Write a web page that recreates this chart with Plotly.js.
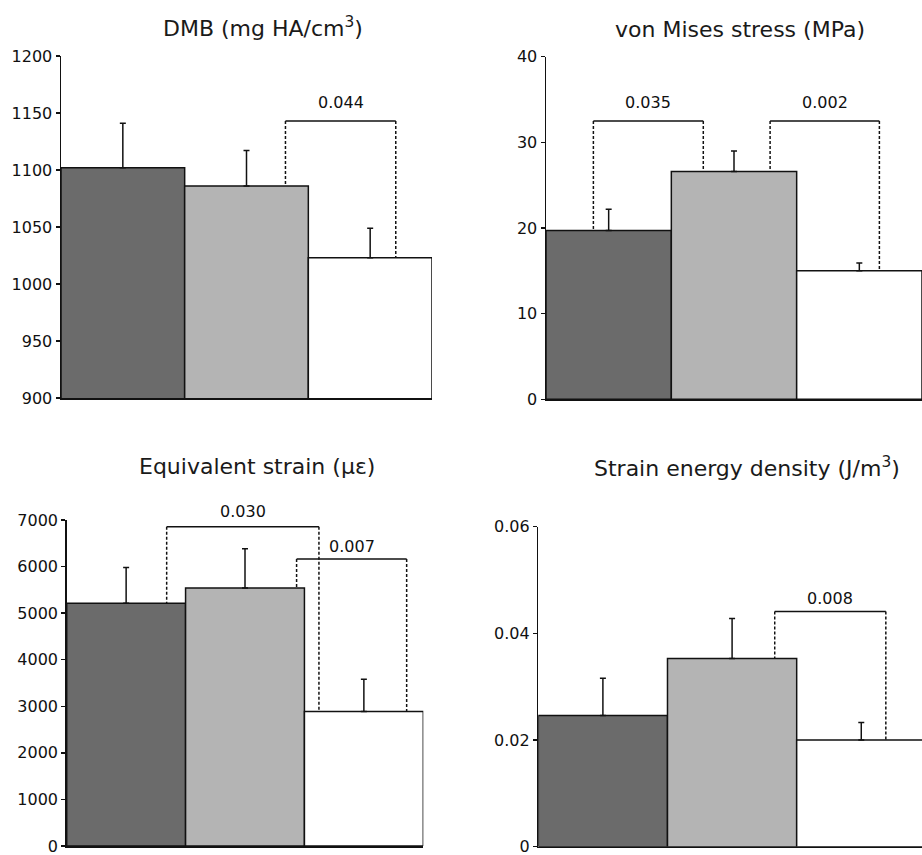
<!DOCTYPE html>
<html>
<head>
<meta charset="utf-8">
<script src="https://cdn.plot.ly/plotly-3.0.1.min.js"></script>
<style>html,body{margin:0;padding:0;background:#fff;}#chart{width:922px;height:855px;}</style>
</head>
<body>
<div id="chart"></div>
<script>
// ---- data ----
const groups = [0, 1, 2];
const barColors = ['#6b6b6b', '#b4b4b4', '#ffffff'];

const dmbMean = [1102, 1086, 1023];
const dmbSD = [39, 31, 26];

const vmMean = [19.7, 26.6, 15.0];
const vmSD = [2.5, 2.4, 0.9];

const strainMean = [5210, 5540, 2890];
const strainSD = [770, 840, 690];

const sedMean = [0.0246, 0.0353, 0.0200];
const sedSD = [0.0070, 0.0075, 0.0033];

const titles = ['DMB (mg HA/cm<sup>3</sup>)', 'von Mises stress (MPa)',
                'Equivalent strain (με)', 'Strain energy density (J/m<sup>3</sup>)'];

// p-value brackets: [panel, xLeft, xRight, bracketY, labelY, label]
const brackets = [
  [0, 1.315, 2.207, 1143, 1159, '0.044'],
  [1, -0.122, 0.755, 32.5, 34.6, '0.035'],
  [1, 1.288, 2.16, 32.5, 34.6, '0.002'],
  [2, 0.341, 1.622, 6857, 7193, '0.030'],
  [2, 1.434, 2.36, 6163, 6427, '0.007'],
  [3, 1.33, 2.19, 0.0441, 0.0466, '0.008']
];

const means = [dmbMean, vmMean, strainMean, sedMean];
const sds = [dmbSD, vmSD, strainSD, sedSD];

// ---- layout geometry (pixels) ----
const W = 922, H = 855;
const panels = [
  {x0: 61, x1: 432, yTop: 56, yBot: 398, range: [900, 1200], dtick: 50, xr: [-0.5, 2.5], tx: 263, ty: 27},
  {x0: 546, x1: 922, yTop: 56.7, yBot: 399.3, range: [0, 40], dtick: 10, xr: [-0.5, 2.5], tx: 740, ty: 29},
  {x0: 66.7, x1: 423.3, yTop: 520, yBot: 846, range: [0, 7000], dtick: 1000, xr: [-0.5, 2.5], tx: 257, ty: 466},
  {x0: 538.3, x1: 922, yTop: 526.7, yBot: 846.7, range: [0, 0.06], dtick: 0.02, xr: [-0.5, 2.47], tx: 747, ty: 467}
];

const fontFam = 'DejaVu Sans, sans-serif';
const traces = [];
const layout = {
  width: W, height: H,
  margin: {l: 0, r: 0, t: 0, b: 0},
  paper_bgcolor: '#fff', plot_bgcolor: 'rgba(0,0,0,0)',
  showlegend: false,
  shapes: [], annotations: [],
  font: {family: fontFam, color: '#111'}
};

panels.forEach((p, i) => {
  const n = i === 0 ? '' : String(i + 1);
  traces.push({
    type: 'bar', x: groups, y: means[i], width: 1,
    xaxis: 'x' + n, yaxis: 'y' + n,
    marker: {color: barColors, line: {color: '#111', width: 1.5}},
    error_y: {type: 'data', symmetric: false, array: sds[i], arrayminus: [0, 0, 0],
              color: '#111', thickness: 1.5, width: 3},
    hoverinfo: 'skip', cliponaxis: false
  });
  layout['xaxis' + n] = {
    domain: [p.x0 / W, p.x1 / W], range: p.xr, anchor: 'y' + n,
    showline: true, linecolor: '#111', linewidth: 1.5,
    showticklabels: false, ticks: '', showgrid: false, zeroline: false, fixedrange: true
  };
  layout['yaxis' + n] = {
    domain: [1 - p.yBot / H, 1 - p.yTop / H], range: p.range, anchor: 'x' + n,
    dtick: p.dtick, tick0: p.range[0],
    showline: true, linecolor: '#111', linewidth: 1.5,
    ticks: 'outside', ticklen: 4, tickwidth: 1.5, tickcolor: '#111',
    showgrid: false, zeroline: false, fixedrange: true,
    ticklabeloverflow: 'allow',
    tickfont: {family: fontFam, size: 16, color: '#111'}
  };
  layout.annotations.push({
    xref: 'paper', yref: 'paper', x: p.tx / W, y: 1 - p.ty / H,
    xanchor: 'center', yanchor: 'middle', showarrow: false,
    text: titles[i], font: {family: fontFam, size: 22, color: '#1a1a1a'}
  });
});

brackets.forEach(b => {
  const [pi, xl, xr, by, ly, lab] = b;
  const n = pi === 0 ? '' : String(pi + 1);
  const xref = 'x' + n, yref = 'y' + n;
  const p = panels[pi];
  const m = means[pi];
  const topL = m[Math.round(xl)];
  const topR = m[Math.round(xr)];
  const dash = {color: '#111', width: 1.5, dash: '3px,2px'};
  layout.shapes.push(
    {type: 'line', xref, yref, x0: xl, x1: xr, y0: by, y1: by, line: {color: '#111', width: 1.5}},
    {type: 'line', xref, yref, x0: xl, x1: xl, y0: by, y1: topL, line: dash},
    {type: 'line', xref, yref, x0: xr, x1: xr, y0: by, y1: topR, line: dash}
  );
  // label y in paper coordinates (may lie above the axis range)
  const d0 = 1 - p.yBot / H, d1 = 1 - p.yTop / H;
  const yPaper = d0 + (ly - p.range[0]) / (p.range[1] - p.range[0]) * (d1 - d0);
  layout.annotations.push({
    xref, yref: 'paper', x: (xl + xr) / 2, y: yPaper, xanchor: 'center', yanchor: 'middle',
    showarrow: false, text: lab, font: {family: fontFam, size: 16, color: '#111'}
  });
});

Plotly.newPlot('chart', traces, layout, {displayModeBar: false, staticPlot: true});
</script>
</body>
</html>
